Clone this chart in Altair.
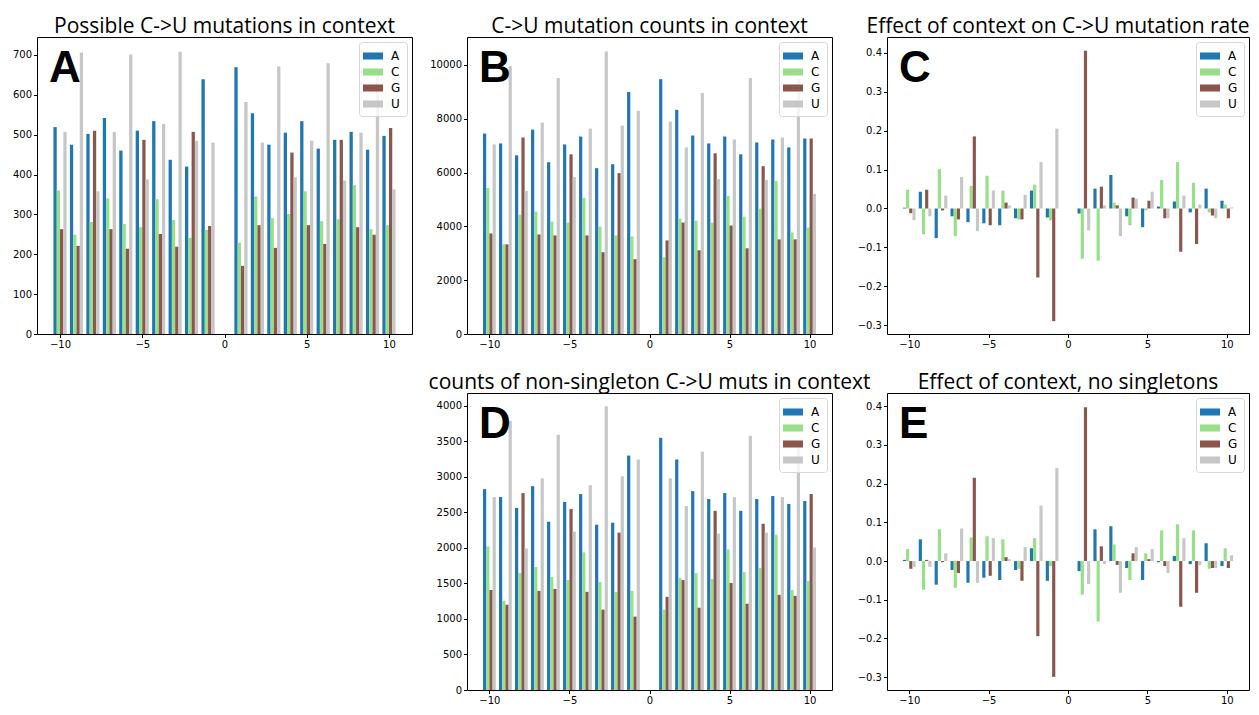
import altair as alt
import pandas as pd

positions = [-10, -9, -8, -7, -6, -5, -4, -3, -2, -1, 1, 2, 3, 4, 5, 6, 7, 8, 9, 10]
bases = ["A", "C", "G", "U"]
base_colors = ["#1f77b4", "#98df8a", "#8c564b", "#c7c7c7"]
x_ticks = [-10, -5, 0, 5, 10]

# Panel A: possible C->U mutations in context
possible_A = [519, 475, 502, 542, 460, 510, 534, 437, 420, 639, 669, 554, 475, 505, 534, 465, 487, 507, 462, 497]
possible_C = [360, 249, 281, 340, 276, 268, 338, 286, 241, 261, 229, 345, 291, 301, 358, 283, 288, 373, 263, 273]
possible_G = [263, 221, 510, 263, 214, 487, 251, 219, 507, 271, 171, 273, 216, 455, 273, 226, 487, 268, 249, 517]
possible_U = [507, 706, 358, 507, 701, 388, 527, 708, 485, 480, 582, 480, 671, 393, 485, 679, 385, 505, 656, 363]

# Panel B: C->U mutation counts in context
counts_A = [7451, 7083, 6642, 7598, 6385, 7047, 7341, 6164, 6311, 8995, 9473, 8333, 7377, 7083, 7341, 6679, 7120, 7230, 6936, 7267]
counts_C = [5429, 3333, 4436, 4547, 4179, 4142, 5061, 3995, 3664, 3627, 2855, 4289, 4216, 4142, 5135, 4363, 4657, 5686, 3775, 3958]
counts_G = [3738, 3333, 7304, 3701, 3664, 6679, 3664, 3039, 5980, 2782, 3480, 4142, 3113, 6716, 4032, 3186, 6238, 3517, 3517, 7267]
counts_U = [7047, 9951, 5319, 7855, 9510, 5833, 7635, 10502, 7745, 8297, 7892, 6936, 8958, 5760, 7230, 9510, 5723, 7304, 9473, 5208]

# Panel C: effect of context on C->U mutation rate
effect_A = [0.002, 0.043, -0.076, -0.020, -0.035, -0.038, -0.043, -0.025, 0.046, -0.023, -0.013, 0.051, 0.086, -0.020, -0.048, 0.005, 0.018, -0.010, 0.051, 0.020]
effect_C = [0.048, -0.066, 0.101, -0.071, 0.058, 0.084, 0.046, -0.028, 0.061, -0.030, -0.129, -0.134, 0.015, -0.043, -0.005, 0.073, 0.119, 0.066, -0.010, 0.010]
effect_G = [-0.012, 0.048, -0.005, -0.028, 0.185, -0.043, 0.015, -0.028, -0.177, -0.289, 0.405, 0.056, 0.008, 0.028, 0.020, -0.025, -0.111, -0.091, -0.018, -0.025]
effect_U = [-0.030, -0.020, 0.033, 0.081, -0.058, 0.046, 0.008, 0.035, 0.119, 0.205, -0.056, 0.008, -0.071, 0.025, 0.043, -0.025, 0.033, 0.010, -0.025, 0.003]

# Panel D: counts of non-singleton C->U muts in context
nonsingle_A = [2824, 2713, 2560, 2866, 2366, 2644, 2755, 2324, 2352, 3296, 3546, 3241, 2796, 2685, 2769, 2519, 2685, 2727, 2616, 2657]
nonsingle_C = [2019, 1255, 1644, 1727, 1588, 1546, 1935, 1519, 1380, 1394, 1130, 1574, 1644, 1560, 1977, 1657, 1713, 2185, 1407, 1532]
nonsingle_G = [1407, 1199, 2769, 1394, 1421, 2546, 1380, 1130, 2213, 1032, 1310, 1546, 1157, 2519, 1505, 1213, 2338, 1338, 1324, 2755]
nonsingle_U = [2713, 3782, 1991, 2977, 3588, 2227, 2880, 3991, 3005, 3241, 2977, 2588, 3352, 2199, 2713, 3574, 2213, 2713, 3500, 2005]

# Panel E: effect of context, no singletons
effect_ns_A = [0.003, 0.056, -0.061, -0.023, -0.056, -0.043, -0.049, -0.023, 0.033, -0.051, -0.026, 0.082, 0.090, -0.018, -0.049, -0.003, 0.013, -0.008, 0.046, -0.013]
effect_ns_C = [0.031, -0.074, 0.082, -0.069, 0.061, 0.064, 0.056, -0.020, 0.059, -0.013, -0.087, -0.156, 0.043, -0.049, 0.020, 0.079, 0.095, 0.079, -0.020, 0.033]
effect_ns_G = [-0.020, 0.003, -0.003, -0.031, 0.215, -0.038, 0.010, -0.051, -0.194, -0.299, 0.397, 0.038, -0.010, 0.020, 0.005, -0.013, -0.118, -0.082, -0.018, -0.018]
effect_ns_U = [-0.015, -0.015, 0.020, 0.084, -0.056, 0.059, 0.005, 0.036, 0.143, 0.240, -0.059, -0.008, -0.082, 0.036, 0.031, -0.031, 0.059, -0.010, -0.018, 0.015]

TITLE_FONT = "Open Sans"
TICK_FONT = "DejaVu Sans"
PANEL_H = 297


def build_frame(series):
    rows = []
    for b, vals in zip(bases, series):
        for p, v in zip(positions, vals):
            rows.append({"pos": p, "base": b, "value": v})
    return pd.DataFrame(rows)


def panel(series, title, letter, y_domain, y_ticks, y_format, width, height, title_dx=0):
    df = build_frame(series)
    base_list = "[" + ",".join("'%s'" % b for b in bases) + "]"
    bars = (
        alt.Chart(df)
        .transform_calculate(
            xc="datum.pos + (indexof(%s, datum.base) - 1.5) * 0.2" % base_list
        )
        .transform_calculate(x0="datum.xc - 0.1", x1="datum.xc + 0.1")
        .mark_bar(strokeWidth=0)
        .encode(
            x=alt.X(
                "x0:Q",
                scale=alt.Scale(domain=[-11.4, 11.4], nice=False, zero=False),
                axis=alt.Axis(values=x_ticks, title=None, format="d", grid=False),
            ),
            x2="x1:Q",
            y=alt.Y(
                "value:Q",
                scale=alt.Scale(domain=y_domain, nice=False, zero=False),
                axis=alt.Axis(values=y_ticks, title=None, format=y_format, grid=False),
            ),
            y2=alt.datum(0),
            color=alt.Color(
                "base:N",
                scale=alt.Scale(domain=bases, range=base_colors),
                legend=alt.Legend(
                    title=None,
                    orient="top-right",
                    offset=5,
                    padding=6,
                    strokeColor="#d6d6d6",
                    fillColor="rgba(255,255,255,0.8)",
                    cornerRadius=3,
                    symbolType="M-1.25,-0.44H1.25V0.44H-1.25Z",
                    symbolSize=256,
                    symbolStrokeWidth=0,
                    symbolOpacity=1,
                    labelFont=TICK_FONT,
                    labelFontSize=12,
                    labelColor="black",
                    labelOffset=10,
                    rowPadding=2,
                ),
            ),
        )
    )
    lab = (
        alt.Chart(pd.DataFrame({"letter": [letter]}))
        .mark_text(
            font="Liberation Sans",
            fontWeight="bold",
            fontSize=44,
            align="left",
            baseline="alphabetic",
            color="black",
        )
        .encode(x=alt.value(12), y=alt.value(45), text="letter:N")
    )
    return alt.layer(bars, lab).properties(
        width=width,
        height=height,
        title=alt.TitleParams(
            title,
            font=TITLE_FONT,
            fontSize=21,
            fontWeight="normal",
            color="black",
            offset=0,
            dx=title_dx,
            anchor="middle",
        ),
    )


pA = panel([possible_A, possible_C, possible_G, possible_U],
           "Possible C->U mutations in context", "A",
           [0, 745], [0, 100, 200, 300, 400, 500, 600, 700], "d", 375, PANEL_H)
pB = panel([counts_A, counts_C, counts_G, counts_U],
           "C->U mutation counts in context", "B",
           [0, 11040], [0, 2000, 4000, 6000, 8000, 10000], "d", 365, PANEL_H)
pC = panel([effect_A, effect_C, effect_G, effect_U],
           "Effect of context on C->U mutation rate", "C",
           [-0.322, 0.44], [-0.3, -0.2, -0.1, 0.0, 0.1, 0.2, 0.3, 0.4], ".1f", 362, PANEL_H,
           title_dx=-10)
pD = panel([nonsingle_A, nonsingle_C, nonsingle_G, nonsingle_U],
           "counts of non-singleton C->U muts in context", "D",
           [0, 4176], [0, 500, 1000, 1500, 2000, 2500, 3000, 3500, 4000], "d", 365, PANEL_H)
pE = panel([effect_ns_A, effect_ns_C, effect_ns_G, effect_ns_U],
           "Effect of context, no singletons", "E",
           [-0.333, 0.434], [-0.3, -0.2, -0.1, 0.0, 0.1, 0.2, 0.3, 0.4], ".1f", 362, PANEL_H)

blank = (
    alt.Chart(pd.DataFrame({"v": [0]}))
    .mark_point(opacity=0)
    .encode(x=alt.X("v:Q", axis=None), y=alt.Y("v:Q", axis=None))
    .properties(width=375, height=PANEL_H, view=alt.ViewBackground(strokeOpacity=0))
)

chart = (
    alt.concat(pA, pB, pC, blank, pD, pE, columns=3,
               spacing={"row": 59, "column": 55}, bounds="flush")
    .resolve_scale(color="independent")
    .resolve_legend(color="independent")
    .properties(padding={"left": 3, "top": 7, "right": 0, "bottom": 0}, background="white")
    .configure_view(stroke="black", strokeWidth=1)
    .configure_axis(
        grid=False,
        domain=False,
        labelFont=TICK_FONT,
        labelFontSize=10,
        labelColor="black",
        tickColor="black",
        tickSize=3.5,
        labelPadding=2,
    )
)

chart.save("out.html", embed_options={"renderer": "svg", "actions": False})
